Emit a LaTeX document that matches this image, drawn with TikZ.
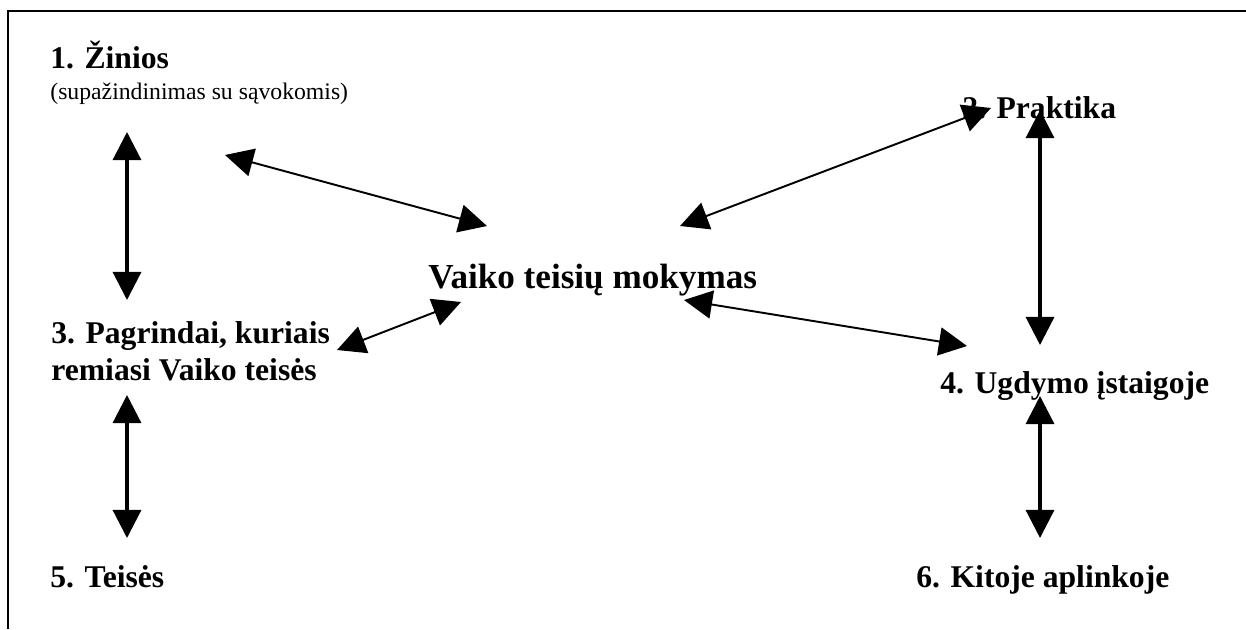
\documentclass[tikz,border=0pt]{standalone}
\usepackage{fontspec}
\setmainfont{Liberation Serif}
\usetikzlibrary{arrows.meta,
                positioning}
\tikzset{topic/.style =
   {inner sep=0pt,
    anchor=base west,
    align=left,
    font=\fontsize{18}{20.6}\selectfont\bfseries}}
\tikzset{note/.style =
   {inner sep=0pt,
    anchor=base west,
    font=\fontsize{13.5}{16}\selectfont}}
\tikzset{centre/.style =
   {inner sep=0pt,
    anchor=base west,
    font=\fontsize{20}{24}\selectfont\bfseries}}
\tikzset{link/.style =
   {draw,
    line width=1.1pt,
    {Triangle[length=16pt,width=16pt]}-{Triangle[length=16pt,width=16pt]}}}
\tikzset{link-vertical/.style = {link, line width=1.8pt}}

\begin{document}
\begin{tikzpicture}[x=0.02cm, y=-0.02cm]

    \useasboundingbox (0,0) rectangle (1246,629);

    % frame
    \draw[line width=1.2pt] (8,629) -- (8,11) -- (1246,11);

    \node [topic] (item1) at (50,68) {1. Žinios};
    \node [note,
           below = 0.64cm of item1.base west,
           anchor=base west] (item1note) {(supažindinimas su sąvokomis)};
    \node [topic] (item2) at (962,118) {2. Praktika};
    \node [topic] (item3) at (51,380) {3. Pagrindai, kuriais\\remiasi Vaiko teisės};
    \node [topic] (item4) at (940,393) {4. Ugdymo įstaigoje};
    \node [topic] (item5) at (50,587) {5. Teisės};
    \node [topic] (item6) at (916,587) {6. Kitoje aplinkoje};

    \node [centre] (teach) at (428,288) {Vaiko teisių mokymas};

    % arrow ends
    \coordinate (ends13a) at (127,132);
    \coordinate (ends13b) at (127,300);
    \coordinate (ends35a) at (127,395);
    \coordinate (ends35b) at (127,538);
    \coordinate (ends24a) at (1040,110);
    \coordinate (ends24b) at (1040,345);
    \coordinate (ends46a) at (1040,396);
    \coordinate (ends46b) at (1040,538);
    \coordinate (ends1ta) at (225,155);
    \coordinate (ends1tb) at (487,226);
    \coordinate (ends2ta) at (680,226);
    \coordinate (ends2tb) at (991,108);
    \coordinate (ends3ta) at (337,350);
    \coordinate (ends3tb) at (461,302);
    \coordinate (ends4ta) at (684,300);
    \coordinate (ends4tb) at (967,346);

    \draw[link-vertical] (ends13a) -- (ends13b);
    \draw[link-vertical] (ends35a) -- (ends35b);
    \draw[link-vertical] (ends24a) -- (ends24b);
    \draw[link-vertical] (ends46a) -- (ends46b);
    \draw[link] (ends1ta) -- (ends1tb);
    \draw[link] (ends2ta) -- (ends2tb);
    \draw[link] (ends3ta) -- (ends3tb);
    \draw[link] (ends4ta) -- (ends4tb);

\end{tikzpicture}
\end{document}
